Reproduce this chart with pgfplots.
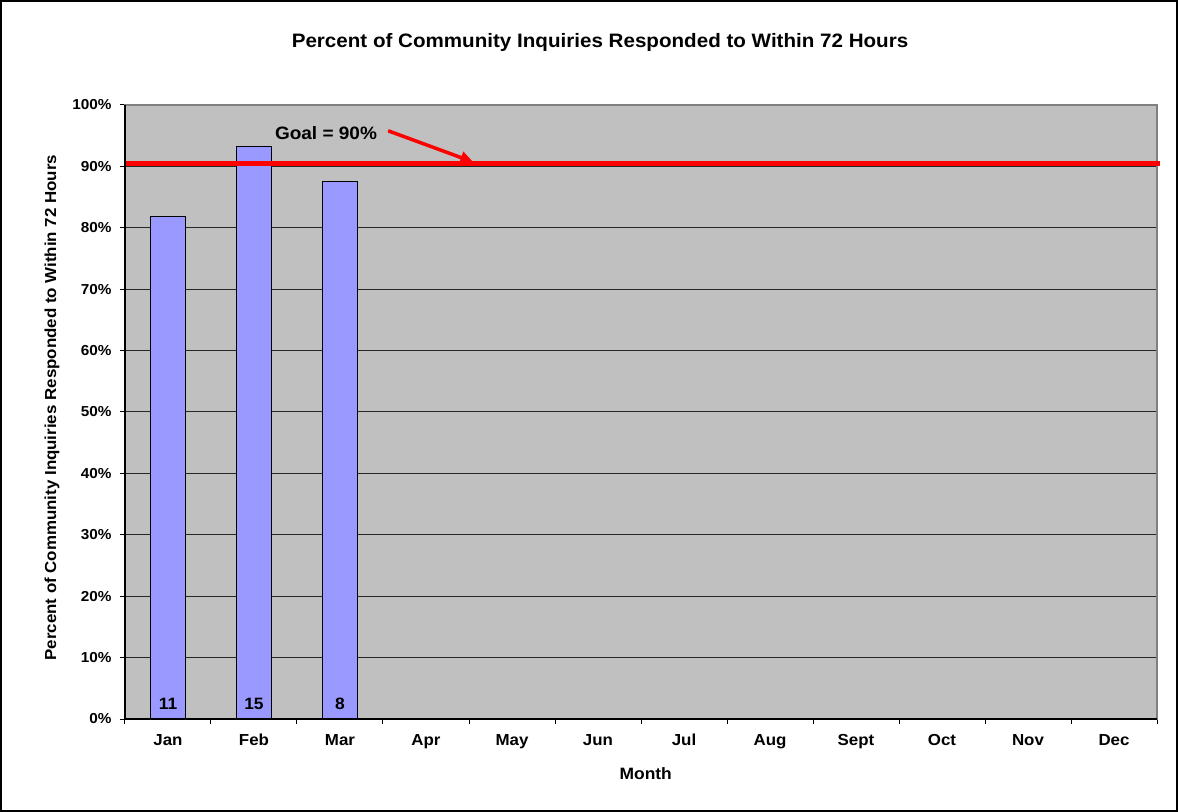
\documentclass[border=0pt]{standalone}
\usepackage{fontspec}
\setmainfont{Liberation Sans}[FakeStretch=1.06]
\usepackage{pgfplots}
\pgfplotsset{compat=1.18}
\usetikzlibrary{arrows.meta}
\definecolor{plotbg}{HTML}{C0C0C0}
\definecolor{barblue}{HTML}{9999FF}
\definecolor{goalred}{HTML}{FF0000}
\definecolor{axisgray}{HTML}{808080}
\newcommand{\fs}[1]{\fontsize{#1}{#1}\selectfont\bfseries}

\begin{document}
\begin{tikzpicture}
\begin{axis}[
  at={(0,0)}, anchor=south west, scale only axis,
  width=1032bp, height=614bp,
  xmin=-0.5, xmax=11.5, ymin=0, ymax=100,
  axis background/.style={fill=plotbg},
  axis line style={draw=axisgray, line width=1.5bp},
  xtick={-0.5,0.5,...,11.5},
  xticklabels={Jan,Feb,Mar,Apr,May,Jun,Jul,Aug,Sept,Oct,Nov,Dec,{}},
  xticklabel style={font=\fs{16}, anchor=base, xshift=43bp, yshift=-21bp},
  ytick={0,10,...,100},
  yticklabels={0\%,10\%,20\%,30\%,40\%,50\%,60\%,70\%,80\%,90\%,100\%},
  yticklabel style={font=\fs{14.5}, anchor=east, xshift=-5bp},
  tick pos=left,
  tick align=outside, major tick length=5bp,
  tick style={black, line width=1bp},
  ymajorgrids, grid style={black!85, line width=1bp},
  title={Percent of Community Inquiries Responded to Within 72 Hours},
  title style={at={(rel axis cs:0.4603,1.0831)}, anchor=base, font=\fs{19.5}},
  xlabel={Month},
  xlabel style={at={(rel axis cs:0.5046,-0.0993)}, anchor=base, font=\fs{16.5}},
  ylabel={Percent of Community Inquiries Responded to Within 72 Hours},
  ylabel style={at={(rel axis cs:-0.0707,0.507)}, anchor=center, rotate=0, font=\fs{16}},
  clip=false,
]
\addplot[ybar, bar width=0.4, fill=barblue, draw=black, line width=1bp]
  coordinates {(0,81.8) (1,93.3) (2,87.5)};
\addplot[draw=none, nodes near coords, point meta=explicit symbolic,
  every node near coord/.append style={font=\fs{16.5}, text=black, anchor=base, yshift=10bp}]
  coordinates {(0,0)[11] (1,0)[15] (2,0)[8]};
\addplot[goalred, line width=4.5bp, forget plot]
  coordinates {(-0.5,90.5) (11.54,90.5)};
\draw[black, line width=1.5bp] (rel axis cs:0,1) -- (rel axis cs:0,0) -- (rel axis cs:1,0);
\draw[goalred, line width=3.5bp, -{Triangle[length=13bp,width=12bp]}]
  (axis cs:2.56,95.8) -- (axis cs:3.55,90.7);
\node[font=\fs{18}, anchor=center] at (axis cs:1.837,95.4) {Goal = 90\%};
\end{axis}
\draw[black, line width=2.5bp] (-123.75bp,-91.75bp) rectangle (1051.75bp,717.75bp);
\pgfresetboundingbox
\useasboundingbox (-125bp,-93bp) rectangle (1053bp,719bp);
\end{tikzpicture}
\end{document}
